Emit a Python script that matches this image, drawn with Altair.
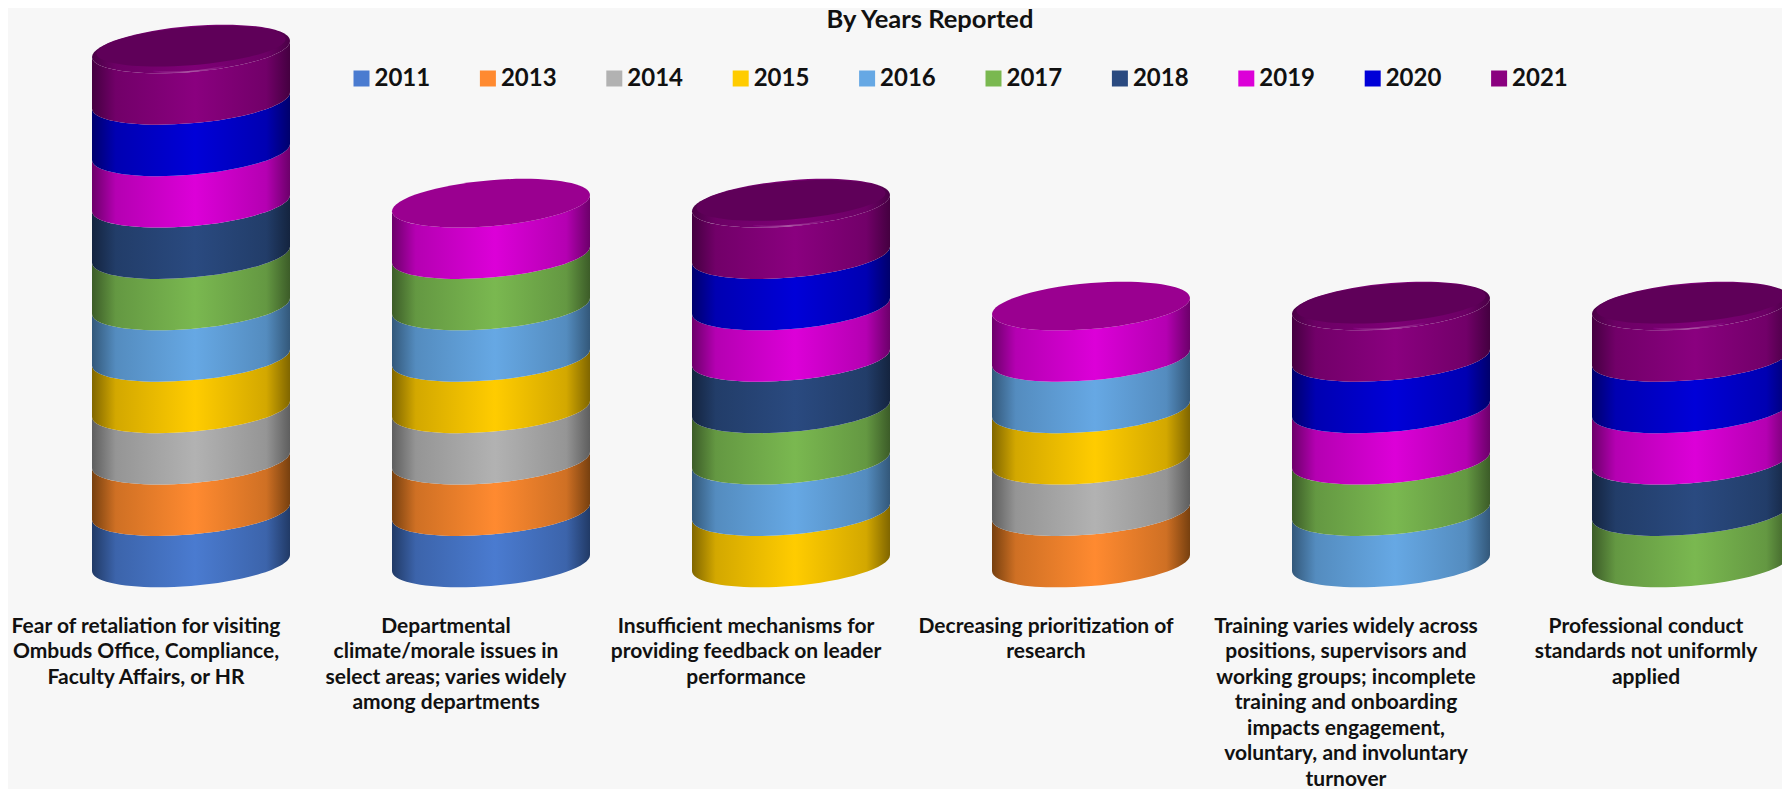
import altair as alt
import pandas as pd

YEARS = ["2011", "2013", "2014", "2015", "2016", "2017", "2018", "2019", "2020", "2021"]
MID = ["#4a7bd0", "#ff8a30", "#b2b2b2", "#ffcc00", "#66a8e4", "#7ab850", "#2a4a80", "#dc00d8", "#0000d8", "#8a007f"]
EDGE = ["#213a66", "#77400f", "#5e5e5e", "#806600", "#33587a", "#3c5c28", "#14243f", "#6c006a", "#00006c", "#440040"]
CAP_COLOR = {"2019": "#9a0090", "2021": "#5f0059"}

LABELS = [
    "Fear of retaliation for visiting\nOmbuds Office, Compliance,\nFaculty Affairs, or HR",
    "Departmental\nclimate/morale issues in\nselect areas; varies widely\namong departments",
    "Insufficient mechanisms for\nproviding feedback on leader\nperformance",
    "Decreasing prioritization of\nresearch",
    "Training varies widely across\npositions, supervisors and\nworking groups; incomplete\ntraining and onboarding\nimpacts engagement,\nvoluntary, and involuntary\nturnover",
    "Professional conduct\nstandards not uniformly\napplied",
]
REPORTED = [
    ["2011", "2013", "2014", "2015", "2016", "2017", "2018", "2019", "2020", "2021"],
    ["2011", "2013", "2014", "2015", "2016", "2017", "2019"],
    ["2015", "2016", "2017", "2018", "2019", "2020", "2021"],
    ["2013", "2014", "2015", "2016", "2019"],
    ["2016", "2017", "2019", "2020", "2021"],
    ["2017", "2018", "2019", "2020", "2021"],
]

rows, tops = [], []
for label, yrs in zip(LABELS, REPORTED):
    for i, yr in enumerate(yrs):
        rows.append({"issue": label, "year": yr, "mid": i + 0.5})
    tops.append({"issue": label, "year": yrs[-1], "top": len(yrs)})
segs = pd.DataFrame(rows)
caps = pd.DataFrame(tops)

# unit-box geometry of a sheared cylinder slice (drawn from -1..1 in x)
B, S, H, K = 0.232, 0.082, 0.2596, 0.5523
f = lambda v: f"{v:.4f}"
def lower(c):
    return [(-1, c + S), (-1, c + S + K * B), (-K, c + B + S * K), (0, c + B),
            (K, c + B - S * K), (1, c - S + K * B), (1, c - S)]
def arc_forward(c):
    p = lower(c)
    return f"M{f(p[0][0])},{f(p[0][1])}C" + " ".join(f"{f(x)},{f(y)}" for x, y in p[1:])
def arc_back(c):
    p = lower(c)[::-1]
    return f"L{f(p[0][0])},{f(p[0][1])}C" + " ".join(f"{f(x)},{f(y)}" for x, y in p[1:])
SEG = arc_forward(-H) + arc_back(H) + "Z"
def ellipse(c, xr, b, s):
    return (f"M{f(-xr)},{f(c+s)}C{f(-xr)},{f(c+s+K*b)} {f(-K*xr)},{f(c+b+s*K)} 0,{f(c+b)}"
            f"C{f(K*xr)},{f(c+b-s*K)} {f(xr)},{f(c-s+K*b)} {f(xr)},{f(c-s)}"
            f"C{f(xr)},{f(c-s-K*b)} {f(K*xr)},{f(c-b-s*K)} 0,{f(c-b)}"
            f"C{f(-K*xr)},{f(c-b+s*K)} {f(-xr)},{f(c+s-K*b)} {f(-xr)},{f(c+s)}Z")
CAP = ellipse(0, 1, B, S)
CAP_IN = ellipse(-0.028, 0.955, 0.192, S * 0.9)
GLOW_ARC = "M-0.38,0.226C-0.18,0.249 0.12,0.229 0.34,0.174"
DIAM = 198
SIZE = DIAM ** 2

def mix(a, b, t):
    ca = [int(a[i:i + 2], 16) for i in (1, 3, 5)]
    cb = [int(b[i:i + 2], 16) for i in (1, 3, 5)]
    return "#" + "".join(f"{round(x + (y - x) * t):02x}" for x, y in zip(ca, cb))

def grad(edge, mid):
    return alt.LinearGradient(
        gradient="linear", x1=0, x2=1, y1=0, y2=0,
        stops=[
            alt.GradientStop(offset=0, color=edge),
            alt.GradientStop(offset=0.12, color=mix(edge, mid, 0.65)),
            alt.GradientStop(offset=0.52, color=mid),
            alt.GradientStop(offset=0.88, color=mix(edge, mid, 0.65)),
            alt.GradientStop(offset=1, color=edge),
        ],
    )

x = alt.X("issue:N", sort=LABELS,
          scale=alt.Scale(type="point", domain=LABELS, padding=0),
          axis=alt.Axis(title=None, ticks=False, domain=False, grid=False, labelAngle=0,
                        labelAlign="center", labelBaseline="top", labelPadding=52, labelOffset=-45.5,
                        labelLimit=0, labelFont="Lato", labelFontWeight="bold", labelFontSize=21,
                        labelLineHeight=25.5, labelColor="#111111",
                        labelExpr="split(datum.label, '\\n')"))
y_scale = alt.Scale(domain=[0, 10], nice=False, zero=True)
ym = alt.Y("mid:Q", scale=y_scale, axis=None)
yt = alt.Y("top:Q", scale=y_scale, axis=None)

layers = []
for yr, m, e in zip(YEARS, MID, EDGE):
    d = segs[segs.year == yr]
    layers.append(alt.Chart(d).mark_point(shape=SEG, size=SIZE, filled=True, fill=grad(e, m),
                                          opacity=1, strokeWidth=0).encode(x=x, y=ym))

# flat lid of the 2019-topped stacks
lid19 = caps[caps.year == "2019"]
layers.append(alt.Chart(lid19).mark_point(shape=CAP, size=SIZE, filled=True, fill=CAP_COLOR["2019"],
                                          opacity=1, strokeWidth=0).encode(x=x, y=yt))

# bevelled lid of the 2021-topped stacks
lid21 = caps[caps.year == "2021"]
layers.append(alt.Chart(lid21).mark_point(shape=CAP, size=SIZE, filled=True, fill=grad("#4a0046", "#7e0076"),
                                          opacity=1, strokeWidth=0).encode(x=x, y=yt))
layers.append(alt.Chart(lid21).mark_point(shape=CAP_IN, size=SIZE, filled=True, fill=CAP_COLOR["2021"],
                                          opacity=1, strokeWidth=0).encode(x=x, y=yt))
layers.append(alt.Chart(lid21).mark_point(
    shape=GLOW_ARC, size=SIZE, filled=False, opacity=0.9, strokeWidth=1.6,
    stroke=alt.LinearGradient(gradient="linear", x1=0, x2=1, y1=0, y2=0, stops=[
        alt.GradientStop(offset=0, color="#80007a"),
        alt.GradientStop(offset=0.5, color="#b060a8"),
        alt.GradientStop(offset=1, color="#80007a"),
    ])).encode(x=x, y=yt))

legend_src = pd.DataFrame({"year": YEARS, "issue": [LABELS[0]] * 10, "mid": [0.5] * 10})
layers.append(
    alt.Chart(legend_src).mark_square(size=0, opacity=1).encode(
        x=x, y=ym,
        color=alt.Color("year:N", scale=alt.Scale(domain=YEARS, range=MID),
                        legend=alt.Legend(
                            title=None, orient="none", legendX=158.5, legendY=17.5, direction="horizontal",
                            columns=10, symbolType="square", symbolSize=256, symbolOpacity=1,
                            symbolStrokeWidth=0, labelOffset=1, columnPadding=45.4,
                            labelFont="Lato", labelFontWeight="bold", labelFontSize=24,
                            labelColor="#111111", labelLimit=0)),
    )
)

chart = alt.layer(*layers).properties(
    width=1500, height=514,
    background="#f7f7f7",
    padding={"left": 183, "top": 41, "right": 91, "bottom": 226},
    autosize=alt.AutoSizeParams(type="none"),
    title=alt.TitleParams("By Years Reported", anchor="middle", dx=-11, offset=-8.5,
                          font="Lato", fontWeight="bold", fontSize=25.5, color="#111111"),
).configure_view(stroke=None)

chart.save("out.html", embed_options={"renderer": "svg", "actions": False})
